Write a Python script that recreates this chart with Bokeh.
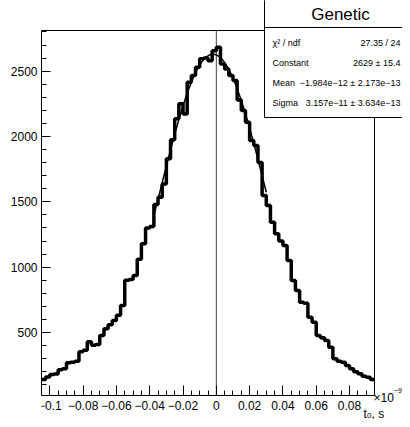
import numpy as np
from bokeh.plotting import figure
from bokeh.models import Range1d, FixedTicker, Label
from bokeh.embed import file_html
from bokeh.resources import INLINE

# ---------------- data ----------------
hist_lo = -0.105          # x in units of 1e-9 s
hist_bin = 0.0025
counts = [140, 160, 178, 182, 215, 222, 268, 272, 280, 352,
          365, 430, 402, 408, 478, 528, 560, 592, 632, 707,
          900, 905, 936, 1060, 1180, 1300, 1312, 1480, 1535, 1637,
          1829, 1975, 2135, 2250, 2173, 2415, 2466, 2530, 2594, 2600,
          2580, 2657, 2683, 2555, 2517, 2466, 2428, 2280, 2198, 2109,
          1969, 1931, 1800, 1548, 1472, 1344, 1255, 1200, 1166, 1051,
          898, 821, 732, 724, 617, 579, 477, 460, 439, 388,
          299, 280, 273, 248, 222, 200, 184, 165, 158, 140]

fit_constant = 2629.0
fit_mean = -1.984e-12 * 1e9
fit_sigma = 3.157e-11 * 1e9
fit_range = [-0.0375, 0.03]

x_ticks = [-0.1, -0.08, -0.06, -0.04, -0.02, 0.0, 0.02, 0.04, 0.06, 0.08]
x_tick_labels = ["\u22120.1", "\u22120.08", "\u22120.06", "\u22120.04", "\u22120.02",
                 "0", "0.02", "0.04", "0.06", "0.08"]
y_ticks = [500, 1000, 1500, 2000, 2500]

stats_title = "Genetic"
stats_names = ["\u03c7\u00b2 / ndf", "Constant", "Mean", "Sigma"]
stats_values = ["27.35 / 24", "2629 \u00b1 15.4",
                "\u22121.984e\u221212 \u00b1 2.173e\u221213",
                "3.157e\u221211 \u00b1 3.634e\u221213"]

# ---------------- layout ----------------
X0, X1 = -0.105, 0.095            # histogram frame range
Y0, Y1 = 18, 2811
FL, FR, FT, FB = 41, 374, 30, 395  # histogram frame edges in figure pixels
W, H = 402, 419

def wx(px):
    return X0 + (px - FL) * (X1 - X0) / (FR - FL)

def wy(py):
    return Y0 + (FB - py) * (Y1 - Y0) / (FB - FT)

FONT = "Liberation Sans"

p = figure(width=W, height=H, x_range=Range1d(X0, wx(W)), y_range=Range1d(wy(H), wy(0)),
           output_backend="svg", toolbar_location=None,
           min_border_left=FL, min_border_right=0,
           min_border_top=0, min_border_bottom=0)
p.grid.visible = False
p.outline_line_color = None
p.background_fill_color = "white"
p.border_fill_color = "white"

# axes
xa = p.xaxis[0]
xa.ticker = FixedTicker(ticks=x_ticks,
                        minor_ticks=list(np.arange(-0.105, 0.0951, 0.005)))
xa.major_label_overrides = {t: l for t, l in zip(x_ticks, x_tick_labels)}
xa.bounds = (X0, X1)
xa.fixed_location = Y0
ya = p.yaxis[0]
ya.ticker = FixedTicker(ticks=y_ticks, minor_ticks=list(range(100, 2801, 100)))
ya.bounds = (Y0, Y1)
for ax in (xa, ya):
    ax.axis_line_color = "black"
    ax.axis_line_width = 1
    ax.major_tick_line_color = "black"
    ax.minor_tick_line_color = "black"
    ax.major_tick_out = 0
    ax.minor_tick_out = 0
    ax.major_label_text_font = FONT
    ax.major_label_text_font_size = "12px"
    ax.major_label_text_color = "black"
xa.major_tick_in = 10
xa.minor_tick_in = 5
ya.major_tick_in = 9
ya.minor_tick_in = 5
xa.major_label_standoff = 5
ya.major_label_standoff = 4

# histogram frame
p.quad(left=X0, right=X1, bottom=Y0, top=Y1, fill_color=None,
       line_color="black", line_width=1)

# vertical line at 0
p.segment(x0=0, y0=Y0, x1=0, y1=Y1, line_color="#444444", line_width=1)

# histogram as steps
edges = hist_lo + hist_bin * np.arange(len(counts) + 1)
ys = list(counts) + [counts[-1]]
p.step(x=edges, y=ys, mode="after", line_color="black", line_width=3.5)

# gaussian fit
xf = np.linspace(fit_range[0], fit_range[1], 200)
yf = fit_constant * np.exp(-0.5 * ((xf - fit_mean) / fit_sigma) ** 2)
p.line(xf, yf, line_color="black", line_width=1.5)

# axis exponent and title
def txt(px, py, s, size, align="left", baseline="alphabetic"):
    p.add_layout(Label(x=wx(px), y=wy(py), text=s, text_font=FONT,
                       text_font_size=size, text_align=align,
                       text_baseline=baseline, text_color="black"))

txt(373, 397, "\u00d710", "12px")
txt(393.3, 390, "\u22129", "7px")
txt(363, 413, "t", "12px")
txt(366.5, 414.5, "0", "8px")
txt(371, 413, ", s", "12px")

# stats box
p.quad(left=wx(264), right=wx(420), bottom=wy(117), top=wy(-10),
       fill_color="white", line_color="black", line_width=1)
p.quad(left=wx(264), right=wx(420), bottom=wy(27), top=wy(-10),
       fill_color="white", line_color="black", line_width=1)
txt(340, 14, stats_title, "17px", align="center", baseline="middle")
for i, (nm, vl) in enumerate(zip(stats_names, stats_values)):
    txt(272, 42 + 20 * i, nm, "9px", baseline="middle")
    txt(400, 42 + 20 * i, vl, "9px", align="right", baseline="middle")

open("out.html", "w").write(file_html(p, INLINE))
